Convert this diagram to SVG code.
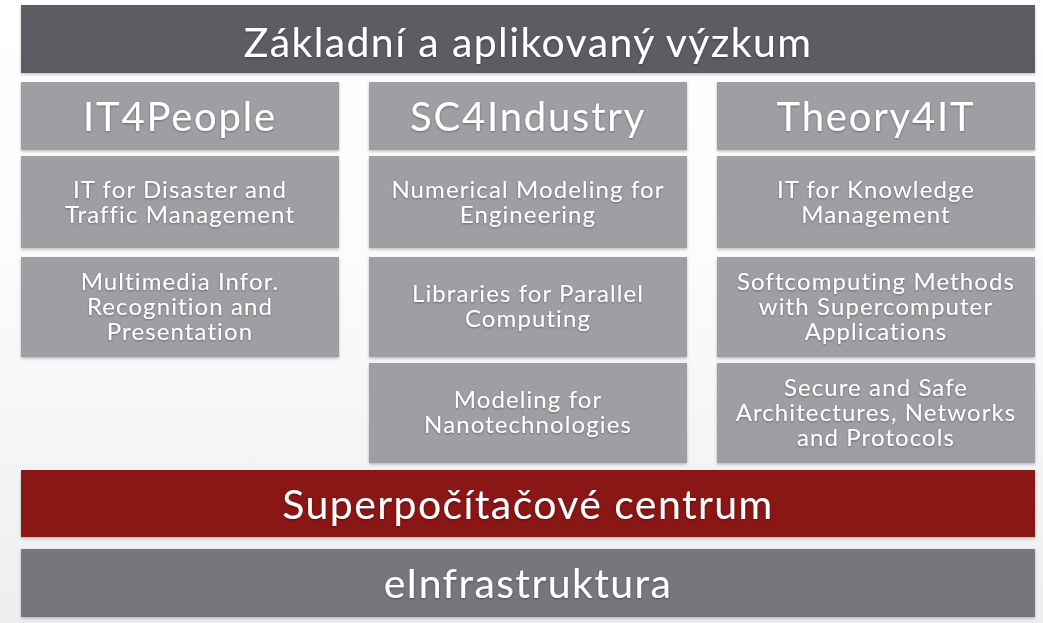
<svg xmlns="http://www.w3.org/2000/svg" width="1043" height="623" viewBox="0 0 1043 623">
<defs>
<linearGradient id="bg" x1="0" y1="0" x2="0" y2="1">
<stop offset="0" stop-color="#ffffff"/>
<stop offset="0.45" stop-color="#fbfbfc"/>
<stop offset="1" stop-color="#eceef0"/>
</linearGradient>
<filter id="sh" x="-5%" y="-10%" width="110%" height="130%">
<feDropShadow dx="0" dy="1.5" stdDeviation="1.5" flood-color="#000" flood-opacity="0.25"/>
</filter>
<filter id="ts" x="-5%" y="-20%" width="110%" height="150%">
<feDropShadow dx="0" dy="1" stdDeviation="1" flood-color="#000" flood-opacity="0.35"/>
</filter>
</defs>
<style>
.box{fill:#9d9fa3;filter:url(#sh)}
.dark{fill:#5c5d62;filter:url(#sh)}
.red{fill:#8a1519;filter:url(#sh)}
.infra{fill:#76777b;filter:url(#sh)}
text{font-family:Lato,"Open Sans","DejaVu Sans",sans-serif;fill:#ffffff;text-anchor:middle;filter:url(#ts)}
.t1{font-size:41px;letter-spacing:1.4px}
.th{font-size:40px;letter-spacing:1.8px}
.tb{font-size:24px;letter-spacing:1.1px}
</style>
<rect x="0" y="0" width="1043" height="623" fill="url(#bg)"/>
<g id="zakladni">
<rect class="dark" x="21" y="5" width="1014" height="68"/>
<text class="t1" x="528" y="57">Základní a aplikovaný výzkum</text>
</g>
<g id="it4people">
<rect class="box" x="21" y="82" width="318" height="68"/>
<text class="th" x="180" y="131">IT4People</text>
</g>
<g id="sc4industry">
<rect class="box" x="369" y="82" width="318" height="68"/>
<text class="th" x="528" y="131">SC4Industry</text>
</g>
<g id="theory4it">
<rect class="box" x="717" y="82" width="318" height="68"/>
<text class="th" x="876" y="131">Theory4IT</text>
</g>
<g id="disaster">
<rect class="box" x="21" y="156" width="318" height="92"/>
<text class="tb" x="180" y="198">IT for Disaster and</text>
<text class="tb" x="180" y="223">Traffic Management</text>
</g>
<g id="multimedia">
<rect class="box" x="21" y="257" width="318" height="100"/>
<text class="tb" x="180" y="290">Multimedia Infor.</text>
<text class="tb" x="180" y="315">Recognition and</text>
<text class="tb" x="180" y="340">Presentation</text>
</g>
<g id="numerical">
<rect class="box" x="369" y="156" width="318" height="92"/>
<text class="tb" x="528" y="198">Numerical Modeling for</text>
<text class="tb" x="528" y="223">Engineering</text>
</g>
<g id="libraries">
<rect class="box" x="369" y="257" width="318" height="100"/>
<text class="tb" x="528" y="302">Libraries for Parallel</text>
<text class="tb" x="528" y="327">Computing</text>
</g>
<g id="nano">
<rect class="box" x="369" y="363" width="318" height="100"/>
<text class="tb" x="528" y="408">Modeling for</text>
<text class="tb" x="528" y="433">Nanotechnologies</text>
</g>
<g id="knowledge">
<rect class="box" x="717" y="156" width="318" height="92"/>
<text class="tb" x="876" y="198">IT for Knowledge</text>
<text class="tb" x="876" y="223">Management</text>
</g>
<g id="softcomputing">
<rect class="box" x="717" y="257" width="318" height="100"/>
<text class="tb" x="876" y="290">Softcomputing Methods</text>
<text class="tb" x="876" y="315">with Supercomputer</text>
<text class="tb" x="876" y="340">Applications</text>
</g>
<g id="secure">
<rect class="box" x="717" y="363" width="318" height="100"/>
<text class="tb" x="876" y="396">Secure and Safe</text>
<text class="tb" x="876" y="421">Architectures, Networks</text>
<text class="tb" x="876" y="446">and Protocols</text>
</g>
<g id="superpocitacove">
<rect class="red" x="21" y="470" width="1014" height="67"/>
<text class="t1" x="528" y="519">Superpočítačové centrum</text>
</g>
<g id="einfrastruktura">
<rect class="infra" x="21" y="549" width="1014" height="68"/>
<text class="t1" x="528" y="598">eInfrastruktura</text>
</g>
<g id="connectors"></g>
</svg>
